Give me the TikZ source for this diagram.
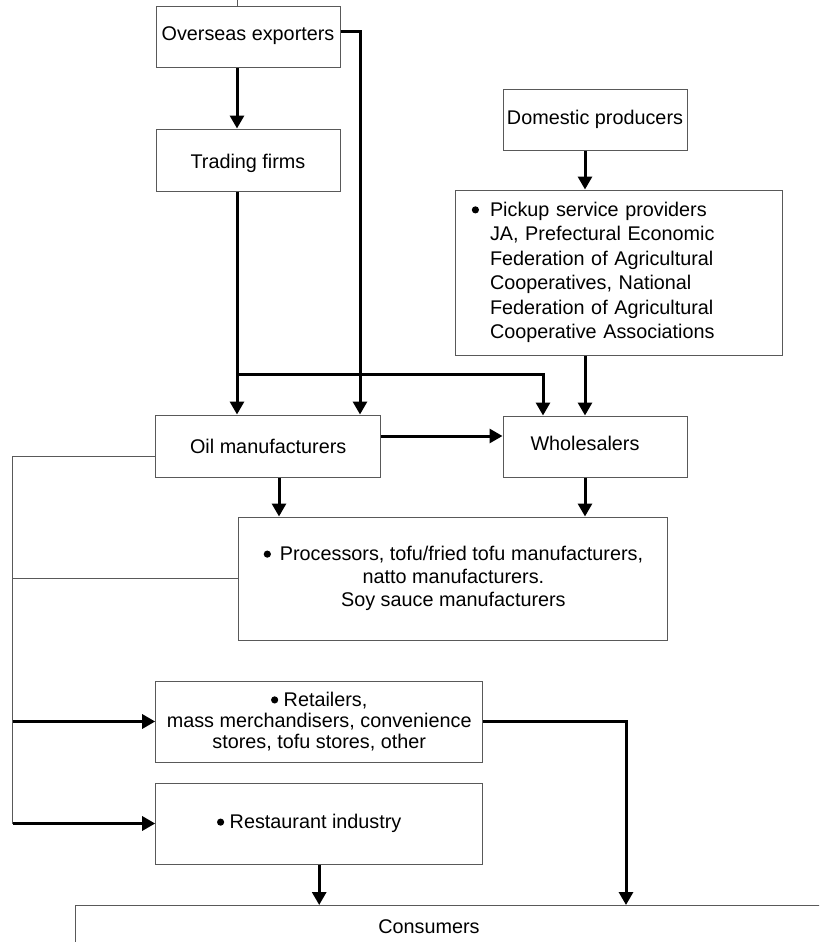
\documentclass[tikz,border=0pt]{standalone}
\usepackage{fontspec}
\setmainfont{Liberation Sans}
\usetikzlibrary{arrows.meta}
\newcommand\blob{\tikz[baseline=-6.5pt]\fill (0,0) circle (3.6pt);}
\begin{document}
\begin{tikzpicture}[x=1pt,y=-1pt,
  box/.style={draw=black!65,line width=1pt,inner sep=0pt,align=center},
  arr/.style={line width=3pt,-{Triangle[length=13pt,width=14pt]}},
  link/.style={draw=black!65,line width=1pt},
  font=\fontsize{19.8}{24.5}\selectfont]
\useasboundingbox (0,0) rectangle (819,942);
\clip (0,0) rectangle (819,942);
% columns and rows of the connectors
\coordinate (c1) at (237,0);
\coordinate (c2) at (360,0);
\coordinate (c3) at (543,0);
\coordinate (c4) at (585,0);
\coordinate (c5) at (279,0);
\coordinate (c6) at (12.7,0);
\coordinate (c7) at (626,0);
\coordinate (r1) at (0,32);
\coordinate (r2) at (0,374);
\coordinate (r3) at (0,436);
\coordinate (r4) at (0,456);
% boxes
\node[box,minimum width=184pt,minimum height=61pt,text depth=8pt] (over) at (248,37.5) {Overseas exporters};
\node[box,minimum width=184pt,minimum height=62pt,text height=22pt] (trade) at (248,160) {Trading firms};
\node[box,minimum width=184pt,minimum height=61pt] (dom) at (595,119.5) {Domestic producers};
\node[box,minimum width=327pt,minimum height=165pt,text width=257pt,align=left] (pick) at (618.5,272.5)
  {\llap{\blob\hspace{11pt}}Pickup service providers\\
   JA, Prefectural Economic\\
   Federation of Agricultural\\
   Cooperatives, National\\
   Federation of Agricultural\\
   Cooperative Associations};
\node[box,minimum width=225pt,minimum height=62pt] (oil) at (268.2,446) {Oil manufacturers};
\node[box,minimum width=184pt,minimum height=61pt,text depth=6pt] (whole) at (595,446.5) {Wholesalers\hspace{20pt}};
\node[box,minimum width=429pt,minimum height=123pt,font=\fontsize{19.8}{23}\selectfont] (proc) at (453.4,578.5)
  {\blob\hspace{9pt}Processors, tofu/fried tofu manufacturers,\\
   natto manufacturers.\\
   Soy sauce manufacturers};
\node[box,minimum width=327pt,minimum height=81pt,font=\fontsize{19.8}{21}\selectfont] (retail) at (319.2,721.5)
  {\blob\ Retailers,\\
   mass merchandisers, convenience\\
   stores, tofu stores, other};
\node[box,minimum width=327pt,minimum height=81pt] (rest) at (319.2,823.5) {\blob\ Restaurant industry\hspace{20pt}};
\node[box,anchor=north west,minimum width=800pt,minimum height=80pt] (cons) at (75,905) {};
\node (constext) at (429,927) {Consumers};
% connectors
\draw[link] (over.north -| c1) -- (c1);
\draw[arr] (over.south -| c1) -- (trade.north -| c1);
\draw[arr] (over.east |- r1) -| (oil.north -| c2);
\draw[arr] (trade.south -| c1) -- (oil.north -| c1);
\draw[arr] (c1 |- r2) -| (whole.north -| c3);
\draw[arr] (dom.south -| c4) -- (pick.north -| c4);
\draw[arr] (pick.south -| c4) -- (whole.north -| c4);
\draw[arr] (oil.east |- r3) -- (whole.west |- r3);
\draw[arr] (oil.south -| c5) -- (proc.north -| c5);
\draw[arr] (whole.south -| c4) -- (proc.north -| c4);
\draw[link] (oil.west |- r4) -| (c6 |- rest.west);
\draw[link] (proc.west) -- (proc.west -| c6);
\draw[arr] (c6 |- retail.west) -- (retail.west);
\draw[arr] (c6 |- rest.west) -- (rest.west);
\draw[arr] (retail.east) -| (cons.north -| c7);
\draw[arr] (rest.south) -- (rest.south |- cons.north);
\end{tikzpicture}
\end{document}
